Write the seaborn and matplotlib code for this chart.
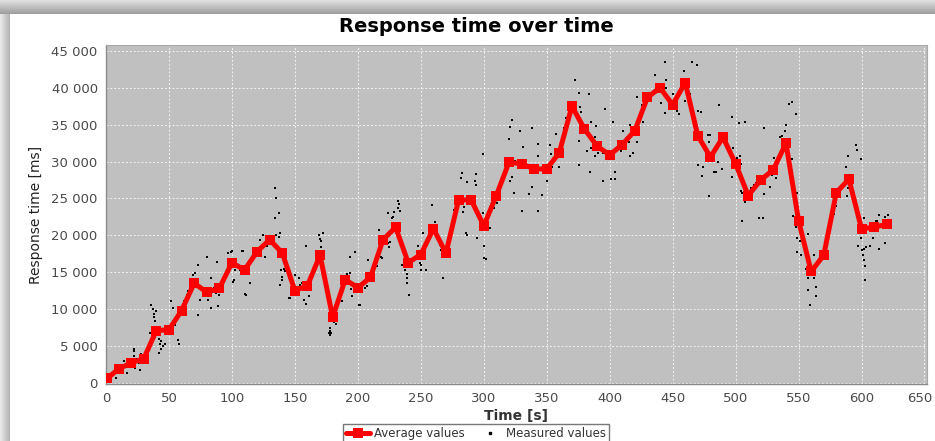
import numpy as np
import pandas as pd
import matplotlib
matplotlib.use("Agg")
import matplotlib.pyplot as plt
import matplotlib.transforms as mtransforms
from matplotlib.lines import Line2D
from matplotlib.ticker import FuncFormatter
import seaborn as sns

# average values (one per 10 s)
avg_time = [1, 10, 20, 30, 40, 50, 60, 70, 80, 90, 100, 110, 120, 130, 140, 150,
            160, 170, 180, 190, 200, 210, 220, 230, 240, 250, 260, 270, 280, 290,
            300, 310, 320, 330, 340, 350, 360, 370, 380, 390, 400, 410, 420, 430,
            440, 450, 460, 470, 480, 490, 500, 510, 520, 530, 540, 550, 560, 570,
            580, 590, 600, 610, 620]
avg_ms = [600, 1900, 2700, 3300, 7100, 7200, 9800, 13500, 12300, 12800, 16300,
          15300, 17800, 19400, 17600, 12500, 13200, 17300, 8900, 14000, 12900,
          14300, 19400, 21100, 16300, 17400, 20900, 17600, 24800, 24800, 21300,
          25400, 29900, 29700, 29000, 29000, 31200, 37500, 34400, 32100, 30900,
          32300, 34200, 38700, 40000, 37700, 40700, 33500, 30600, 33300, 29700,
          25400, 27500, 28900, 32500, 22000, 15100, 17300, 25800, 27600, 20900,
          21100, 21500]

# measured values (single requests)
meas_time = [2, 3, 5, 7, 8, 11, 12, 14, 16, 17, 20, 22, 22, 22, 23, 24, 26, 27, 28, 29, 31, 32,
             35, 36, 37, 38, 38, 39, 40, 42, 42, 43, 44, 44, 45.5, 47,
             52, 53.5, 53, 55, 57, 58, 60, 61, 62, 64, 65, 67, 69, 71, 72, 73, 73,
             75, 78, 81, 80.5, 83, 83, 86, 87, 88.5, 89, 90, 97, 99, 100, 101,
             100, 101, 102.5, 102, 108, 109, 106.5, 110.5, 111, 114, 117, 117.5, 122, 125, 126, 128,
             134, 135, 137, 134, 135, 138, 137, 138, 139, 139.5, 140, 141, 138, 142, 145, 146,
             148.5, 149.7, 151.6, 153, 154, 155.5, 157, 159, 161.6, 163, 159,
             169, 170, 171, 172, 171, 174, 175, 174.5, 176, 175.5, 177.5, 177, 178, 179, 180.7, 183, 178,
             188.6, 191, 192, 193.4, 194, 194.5, 195, 198, 199, 201, 187.5, 204.5, 207.7,
             202, 206, 207, 215, 216.5, 218, 219, 221.8, 223.6, 224, 225, 225.5, 227, 228, 229,
             231.6, 232, 233, 233.5, 233.7, 235, 236.5, 235, 237.7, 239, 239, 239, 240.3,
             247.5, 249, 249.6, 250, 250.5, 252, 254, 259, 261, 263, 265.5, 266, 267, 267.6, 268,
             274.7, 276.6, 282, 283, 284, 283.5, 286, 286.5, 286.5, 293, 294, 294, 295, 299.4,
             299, 300, 300.5, 301.5, 306.5, 308, 310.5, 312, 313, 305,
             320, 320.5, 322.5, 321, 322.5, 324, 325, 327.5, 329, 331, 331.5, 330.4, 335.7,
             338.4, 338.4, 342.8, 342.8, 343, 346.3, 350.3, 353, 353.5, 354, 357, 359.5, 362,
             363.5, 365.6, 366.6, 366, 372.8, 375.5, 383.7, 376.5, 377, 376, 376, 382, 384,
             385.5, 389.4, 388, 385.5, 388, 391, 395, 395, 396, 401, 404, 404, 402.5, 410.7,
             416, 416, 408.6, 418.5, 422, 415.5, 421.3, 425.7, 426.5, 435.6, 436.4, 440.4,
             443.8, 445, 445, 444.3, 450, 453.5, 455.4, 454.5, 458.9, 459.6, 464, 465, 469,
             470, 472.5, 478, 479.5, 479, 470, 474, 473, 479, 483, 484.5, 486, 489, 487, 497,
             503, 507.3, 498, 497.4, 500.8, 503.6, 504.5, 504, 505.2, 507.7, 504.8, 516, 522,
             512, 514.6, 518.5, 522.5, 522.5, 525, 527.4, 529.3, 530.5, 532, 535.2, 537, 539.3,
             540.3, 542.4, 544.5, 547.7, 545, 545, 548.6, 545.8, 547.7, 548.6, 551.3, 552.3,
             552.3, 549, 551.8, 555.8, 556.6, 555.8, 557.6, 557.5, 557.5, 558.8, 562.3, 562.3,
             564, 564, 578.2, 579.5, 578.8, 581.5, 583.8, 585, 587.4, 589, 588.3, 589.4, 591.4,
             595.4, 596.8, 599.9, 602, 599.4, 597.3, 600.6, 601.5, 602, 603.4, 602, 602.5,
             602.8, 606.8, 609.4, 611.8, 614, 612.6, 614, 618.8, 618.5, 621.2]
meas_ms = [1200, 200, 1200, 2300, 700, 1600, 2200, 3000, 2100, 1400, 2700, 4300, 3600, 4600, 2000, 3300, 2700, 1800, 3900, 3000, 3900, 4100,
           6800, 10600, 10000, 9400, 8900, 8400, 9800, 6000, 4100, 5300, 5700, 4600, 5000, 5300,
           11100, 10100, 8400, 7900, 5800, 5300, 9500, 10000, 11100, 11900, 12400, 12800, 14600, 14900, 14000, 16000, 9200,
           11300, 11900, 11200, 17100, 14200, 10100, 12900, 12200, 16400, 10400, 11900, 17600, 17800, 16800, 13700,
           17900, 16600, 15300, 13900, 17900, 17900, 15300, 12100, 11900, 13500, 16600, 17100, 19400, 20100, 17100, 18500,
           26400, 25000, 23000, 22400, 20100, 20300, 19800, 18200, 15300, 14000, 14300, 15400, 13300, 15100, 11500, 11500,
           11900, 14600, 12800, 14200, 13300, 13600, 11200, 10700, 11800, 12800, 18600,
           20100, 19500, 19200, 20300, 18400, 14400, 14100, 13700, 12600, 13500, 7100, 6700, 6500, 6800, 8200, 8000, 7500,
           14500, 14800, 14100, 14900, 17100, 12700, 11800, 17800, 13400, 10500, 11100, 13800, 16700,
           10600, 12800, 13200, 15900, 20700, 17100, 16900, 19200, 23000, 18900, 18400, 19100, 22300, 22500, 23100,
           24600, 23700, 24200, 23300, 19600, 18300, 17600, 16000, 15300, 14800, 14200, 13500, 11900,
           18500, 16900, 16200, 16000, 15300, 20300, 15300, 24100, 21800, 20000, 18700, 18000, 17800, 14200, 17300,
           21200, 23500, 27800, 28500, 23800, 23200, 20300, 20000, 27200, 27400, 26800, 28300, 19600, 31000,
           23000, 18500, 16900, 16800, 23700, 23700, 24400, 26200, 26900, 21000,
           33000, 34700, 35700, 27300, 27900, 25700, 30100, 29900, 34200, 29400, 32000, 23300, 25600,
           34500, 26600, 32400, 30800, 23300, 25500, 27300, 32300, 31000, 29200, 33800, 29200, 32700,
           34500, 35900, 37100, 35300, 41100, 39300, 39200, 37400, 36700, 32800, 29500, 31400, 28600,
           35400, 34800, 33300, 31900, 30700, 31200, 31200, 27400, 37100, 27700, 28600, 27700, 35400, 34100,
           35000, 30800, 31400, 31200, 32600, 32600, 38700, 37700, 35400, 41800, 40400, 38000,
           43500, 41000, 40000, 36600, 39200, 36800, 36500, 39200, 42300, 38200, 39200, 43500, 43100,
           36800, 36700, 33600, 33600, 32700, 29600, 29300, 28000, 25300, 28600, 28600, 29900, 29000, 37700, 36100,
           35200, 35300, 31900, 27900, 30500, 30800, 29700, 26000, 25800, 24500, 22000, 27100, 22300,
           26400, 26800, 22300, 34500, 25600, 28300, 26600, 28200, 30500, 27800, 33300, 33400, 34100,
           34900, 37800, 38100, 36500, 30400, 26600, 25800, 22600, 21100, 19600, 19300, 20300,
           21300, 17800, 17300, 18000, 16800, 15500, 20200, 14200, 12600, 10500, 14200, 17300,
           13000, 11800, 22900, 24000, 26100, 26300, 26400, 26600, 29300, 30700, 25400, 26400, 27100,
           32200, 31500, 30400, 22300, 19700, 18600, 18000, 17400, 18200, 18400, 16700, 15800,
           14000, 18600, 19700, 22000, 22800, 21900, 18200, 18900, 22500, 22800]

x_ticks = list(range(0, 651, 50))
y_ticks = list(range(0, 45001, 5000))

avg_df = pd.DataFrame({"time": avg_time, "ms": avg_ms})
meas_df = pd.DataFrame({"time": meas_time, "ms": meas_ms})

sns.set_style("white")
plt.rcParams["font.family"] = ["DejaVu Sans"]

fig = plt.figure(figsize=(9.35, 4.41), dpi=100, facecolor="white")

# drop shadow of the chart panel (top and left)
top_sh = fig.add_axes([0, 1 - 14 / 441, 1, 14 / 441])
top_sh.imshow(np.linspace(0.88, 0.62, 20).reshape(-1, 1), cmap="gray", vmin=0, vmax=1,
              aspect="auto", extent=[0, 1, 0, 1])
top_sh.axis("off")
left_sh = fig.add_axes([0, 0, 10 / 935, 1 - 14 / 441])
left_sh.imshow(np.linspace(0.92, 0.70, 20).reshape(1, -1), cmap="gray", vmin=0, vmax=1,
               aspect="auto", extent=[0, 1, 0, 1])
left_sh.axis("off")

ax = fig.add_axes([106 / 935, 1 - 384 / 441, 821 / 935, 339 / 441])
ax.set_facecolor("#c0c0c0")

sns.scatterplot(data=meas_df, x="time", y="ms", ax=ax, color="black", marker="s",
                s=4, linewidth=0, zorder=3)
sns.lineplot(data=avg_df, x="time", y="ms", ax=ax, color="#ff0000", linewidth=3.6,
             marker="s", markersize=6.5, markeredgewidth=0, zorder=4)

ax.set_xlim(0, 652)
ax.set_ylim(-150, 45800)
ax.set_xticks(x_ticks)
ax.set_yticks(y_ticks)
ax.yaxis.set_major_formatter(FuncFormatter(lambda v, p: f"{v:,.0f}".replace(",", " ")))
ax.grid(True, color="white", linestyle=(0, (2, 2)), linewidth=0.7, alpha=0.8)
ax.tick_params(axis="both", colors="#555555", labelsize=9.5, length=3, width=0.8,
               direction="out", pad=3)
ax.tick_params(axis="both", labelcolor="#4a4a4a")
for side in ["left", "bottom"]:
    ax.spines[side].set_color("#8a8a8a")
    ax.spines[side].set_linewidth(1.0)
for side in ["top", "right"]:
    ax.spines[side].set_color("#a8a8a8")
    ax.spines[side].set_linewidth(0.8)

# the last x label sits at the very edge of the image; nudge it inside
last = ax.get_xticklabels()[-1]
last.set_transform(last.get_transform() + mtransforms.ScaledTranslation(-5 / 100, 0, fig.dpi_scale_trans))

ax.set_xlabel("Time [s]", fontsize=10, fontweight="bold", color="#333333", labelpad=3)
ax.set_ylabel("Response time [ms]", fontsize=10, color="#222222", labelpad=6)

fig.text(476 / 935, 1 - 27 / 441, "Response time over time", ha="center", va="center",
         fontsize=14, fontweight="bold", color="black")

handles = [
    Line2D([0], [0], color="#ff0000", linewidth=3.6, marker="s", markersize=6.5,
           markeredgewidth=0),
    Line2D([0], [0], color="black", linestyle="none", marker="s", markersize=2),
]
leg = fig.legend(handles, ["Average values", "Measured values"], loc="upper center",
                 bbox_to_anchor=(476 / 935, 1 - 424 / 441), ncol=2, frameon=True,
                 fancybox=False, fontsize=8.5, handlelength=2.0, handletextpad=0.3,
                 columnspacing=1.2, borderpad=0.25, borderaxespad=0)
leg.get_frame().set_edgecolor("#555555")
leg.get_frame().set_linewidth(1.0)
for t in leg.get_texts():
    t.set_color("#333333")

fig.savefig("out.png", dpi=100, facecolor="white")
